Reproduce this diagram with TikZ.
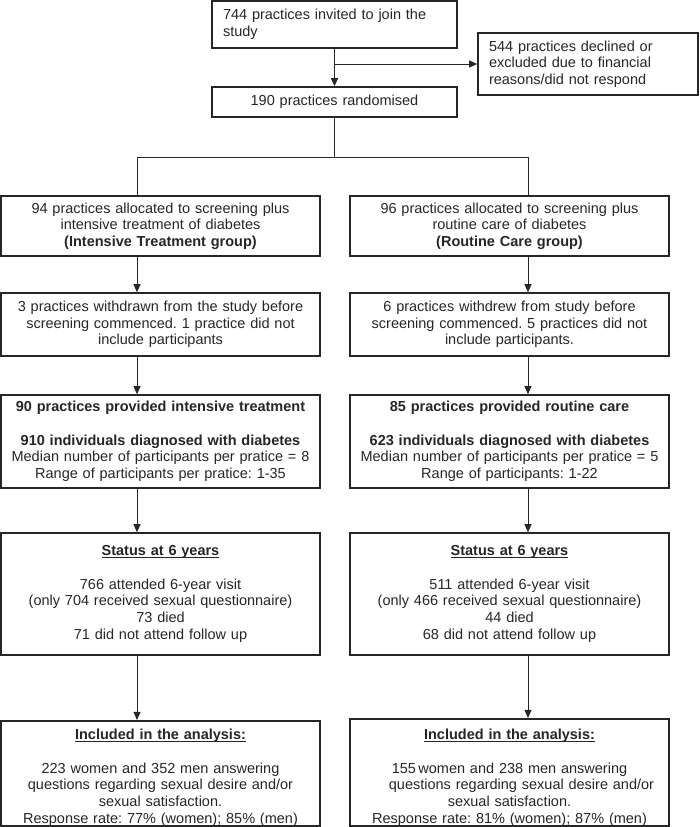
\documentclass[tikz,border=0pt]{standalone}
\usepackage{fontspec}
\setmainfont{Liberation Sans}
\usetikzlibrary{arrows.meta}
\frenchspacing

\newcommand{\ulbf}[1]{\setbox0\hbox{\textbf{#1}}\rlap{\copy0}\rule[-2.2pt]{\wd0}{0.9pt}}

\begin{document}
\begin{tikzpicture}[x=1pt, y=-1pt, >={Triangle[length=8pt,width=7pt]},
    font=\fontsize{14.5}{16.7}\selectfont,
    box/.style={draw=black!85, text=black!85, line width=1.6pt, align=center,
      text width=300pt, inner xsep=9.5pt, inner ysep=0pt, minimum width=319pt},
    lbox/.style={box, align=left, text width=#1, inner xsep=11pt, minimum width=0pt},
    line/.style={draw=black!85, line width=0.9pt}]
    \useasboundingbox (0,0) rectangle (700,827);
    % top part
    \node[lbox=223pt, minimum height=47pt] (invite) at (334.5,24.5) {744 practices invited to join the\\study};
    \node[lbox=198pt, minimum height=62pt] (declined) at (588,64) {544 practices declined or\\excluded due to financial\\reasons/did not respond};
    \node[box, text width=223pt, inner xsep=11pt, minimum width=0pt, minimum height=30pt] (random) at (334.5,102) {190 practices randomised};
    % intensive treatment arm
    \node[box, minimum height=60pt] (itAlloc) at (160.5,226) {94 practices allocated to screening plus\\intensive treatment of diabetes\\\textbf{(Intensive Treatment group)}};
    \node[box, minimum height=63pt] (itWithdraw) at (160.5,324.5) {3 practices withdrawn from the study before\\screening commenced. 1 practice did not\\include participants};
    \node[box, minimum height=93pt] (itProvided) at (160.5,441.5) {\textbf{90 practices provided intensive treatment}\\[16.7pt]\textbf{910 individuals diagnosed with diabetes}\\Median number of participants per pratice = 8\\Range of participants per pratice: 1-35};
    \node[box, minimum height=122pt] (itStatus) at (160.5,594) {\ulbf{Status at 6 years}\\[16.7pt]766 attended 6-year visit\\(only 704 received sexual questionnaire)\\73 died\\71 did not attend follow up};
    \node[box, minimum height=105pt] (itIncl) at (160.5,773.5) {\rule{0pt}{19pt}\ulbf{Included in the analysis:}\\[16.7pt]223 women and 352 men answering\\questions regarding sexual desire and/or\\sexual satisfaction.\\Response rate: 77\% (women); 85\% (men)};
    % routine care arm
    \node[box, minimum height=60pt] (rcAlloc) at (509.5,226) {96 practices allocated to screening plus\\routine care of diabetes\\\textbf{(Routine Care group)}};
    \node[box, minimum height=63pt] (rcWithdraw) at (509.5,324.5) {6 practices withdrew from study before\\screening commenced. 5 practices did not\\include participants.};
    \node[box, minimum height=93pt] (rcProvided) at (509.5,441.5) {\textbf{85 practices provided routine care}\\[16.7pt]\textbf{623 individuals diagnosed with diabetes}\\Median number of participants per pratice = 5\\Range of participants: 1-22};
    \node[box, minimum height=122pt] (rcStatus) at (509.5,594) {\ulbf{Status at 6 years}\\[16.7pt]511 attended 6-year visit\\(only 466 received sexual questionnaire)\\44 died\\68 did not attend follow up};
    \node[box, minimum height=106pt] (rcIncl) at (509.5,772.5) {\rule{0pt}{21pt}\ulbf{Included in the analysis:}\\[16.7pt]155\,women and 238 men answering\\\hspace*{24pt}questions regarding sexual desire and/or\\sexual satisfaction.\\Response rate: 81\% (women); 87\% (men)};
    % connectors
    \coordinate (split) at (333,157);
    \coordinate (xl) at (137,0);
    \coordinate (xr) at (528,0);
    \coordinate (branch) at (invite.south |- declined.west);
    \draw[line, ->] (invite) -- (random);
    \draw[line, ->] (branch) -- (declined.west);
    \draw[line] (random.south) -- (random.south |- split);
    \draw[line] (split -| xl) -- (split -| xr);
    \draw[line] (split -| xl) -- (itAlloc.north -| xl);
    \draw[line] (split -| xr) -- (rcAlloc.north -| xr);
    \draw[line, ->] (itAlloc.south -| xl) -- (itWithdraw.north -| xl);
    \draw[line, ->] (itWithdraw.south -| xl) -- (itProvided.north -| xl);
    \draw[line, ->] (itProvided.south -| xl) -- (itStatus.north -| xl);
    \draw[line, ->] (itStatus.south -| xl) -- (itIncl.north -| xl);
    \draw[line, ->] (rcAlloc.south -| xr) -- (rcWithdraw.north -| xr);
    \draw[line, ->] (rcWithdraw.south -| xr) -- (rcProvided.north -| xr);
    \draw[line, ->] (rcProvided.south -| xr) -- (rcStatus.north -| xr);
    \draw[line, ->] (rcStatus.south -| xr) -- (rcIncl.north -| xr);
\end{tikzpicture}
\end{document}
